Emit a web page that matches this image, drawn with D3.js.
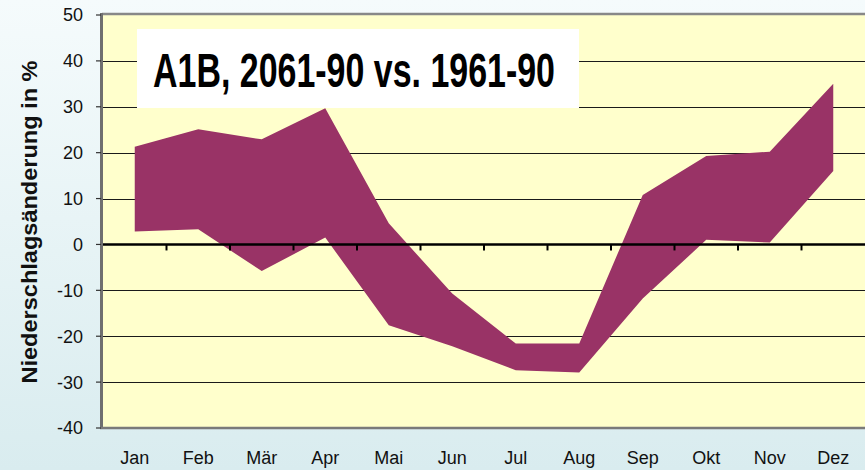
<!DOCTYPE html>
<html>
<head>
<meta charset="utf-8">
<script src="https://cdn.jsdelivr.net/npm/d3@7/dist/d3.min.js"></script>
<style>
  html, body { margin: 0; padding: 0; }
  body { width: 865px; height: 470px; overflow: hidden; }
  svg { display: block; font-family: "Liberation Sans", Arial, sans-serif; }
</style>
</head>
<body>
<svg id="chart" width="865" height="470"></svg>
<script>
// Monthly precipitation change (%), range of model results
const months = ["Jan", "Feb", "Mär", "Apr", "Mai", "Jun", "Jul", "Aug", "Sep", "Okt", "Nov", "Dez"];
const upper  = [21.3, 25.1, 22.9, 29.7, 4.6, -10.7, -21.6, -21.6, 10.8, 19.3, 20.2, 35.0];
const lower  = [2.8, 3.3, -5.8, 1.5, -17.6, -22.2, -27.4, -27.9, -11.8, 1.0, 0.4, 16.0];
const yTicks = [50, 40, 30, 20, 10, 0, -10, -20, -30, -40];
const gridValues = [40, 30, 20, 10, -10, -20, -30];

const svg = d3.select("#chart");
const W = 865, H = 470;
const plot = { left: 103, right: 865, top: 15, bottom: 428 };

// page background gradient
const defs = svg.append("defs");
const bg = defs.append("linearGradient").attr("id", "bg")
  .attr("x1", 0).attr("y1", 0).attr("x2", 0).attr("y2", 1);
bg.append("stop").attr("offset", "0%").attr("stop-color", "#f5fbfc");
bg.append("stop").attr("offset", "100%").attr("stop-color", "#d9ecef");
svg.append("rect").attr("width", W).attr("height", H).attr("fill", "url(#bg)");

const x = d3.scaleBand().domain(months).range([plot.left, plot.right]).padding(0);
const y = d3.scaleLinear().domain([-40, 50]).range([plot.bottom, plot.top]);
const cx = m => x(m) + x.bandwidth() / 2;

// plot area
svg.append("rect")
  .attr("x", plot.left).attr("y", plot.top)
  .attr("width", plot.right - plot.left).attr("height", plot.bottom - plot.top)
  .attr("fill", "#ffffcc");

// horizontal gridlines
svg.append("g").selectAll("line").data(gridValues).join("line")
  .attr("x1", plot.left).attr("x2", plot.right)
  .attr("y1", d => Math.round(y(d)) + 0.5).attr("y2", d => Math.round(y(d)) + 0.5)
  .attr("stroke", "#1a1a1a").attr("stroke-width", 1);

// range band
const rows = months.map((m, i) => ({ m, lo: lower[i], hi: upper[i] }));
const area = d3.area()
  .x(d => cx(d.m))
  .y0(d => y(d.lo))
  .y1(d => y(d.hi));
svg.append("path").datum(rows).attr("d", area).attr("fill", "#993366");

// category axis at zero, ticks between months
const zeroY = y(0);
svg.append("line")
  .attr("x1", plot.left).attr("x2", plot.right)
  .attr("y1", zeroY).attr("y2", zeroY)
  .attr("stroke", "#000").attr("stroke-width", 2.6);
const boundaries = months.map(m => x(m)).concat([plot.right]);
svg.append("g").selectAll("line").data(boundaries.slice(1, 12)).join("line")
  .attr("x1", d => d).attr("x2", d => d)
  .attr("y1", zeroY).attr("y2", zeroY + 6)
  .attr("stroke", "#000").attr("stroke-width", 2);

// plot frame
svg.append("line").attr("x1", plot.left - 1).attr("x2", plot.right)
  .attr("y1", plot.top - 1).attr("y2", plot.top - 1)
  .attr("stroke", "#888").attr("stroke-width", 2.5);
svg.append("line").attr("x1", plot.left - 1.5).attr("x2", plot.left - 1.5)
  .attr("y1", plot.top - 2).attr("y2", plot.bottom + 1)
  .attr("stroke", "#6f6f6f").attr("stroke-width", 3);
svg.append("line").attr("x1", plot.left - 3).attr("x2", plot.right)
  .attr("y1", plot.bottom).attr("y2", plot.bottom)
  .attr("stroke", "#7a7a7a").attr("stroke-width", 2.5);

// value axis ticks and labels
const yAxis = svg.append("g");
yAxis.selectAll("line").data(yTicks).join("line")
  .attr("x1", plot.left - 7).attr("x2", plot.left - 2)
  .attr("y1", d => y(d)).attr("y2", d => y(d))
  .attr("stroke", "#333").attr("stroke-width", 1.2);
yAxis.selectAll("text").data(yTicks).join("text")
  .attr("x", 83).attr("y", d => y(d))
  .attr("dy", "0.36em").attr("text-anchor", "end")
  .attr("font-size", 18).attr("fill", "#111")
  .text(d => d);

// month labels
svg.append("g").selectAll("text").data(months).join("text")
  .attr("x", d => cx(d)).attr("y", 464)
  .attr("text-anchor", "middle").attr("font-size", 18).attr("fill", "#111")
  .text(d => d);

// value axis title
svg.append("text")
  .attr("transform", "translate(37,222) rotate(-90)")
  .attr("text-anchor", "middle").attr("font-size", 22).attr("font-weight", "bold")
  .attr("fill", "#111")
  .attr("textLength", 323).attr("lengthAdjust", "spacingAndGlyphs")
  .text("Niederschlagsänderung in %");

// scenario label box
svg.append("rect").attr("x", 137).attr("y", 29).attr("width", 442).attr("height", 79)
  .attr("fill", "#fff");
svg.append("text")
  .attr("x", 153).attr("y", 87)
  .attr("font-size", 48).attr("font-weight", "bold").attr("fill", "#000")
  .attr("textLength", 402).attr("lengthAdjust", "spacingAndGlyphs")
  .text("A1B, 2061-90 vs. 1961-90");
</script>
</body>
</html>
